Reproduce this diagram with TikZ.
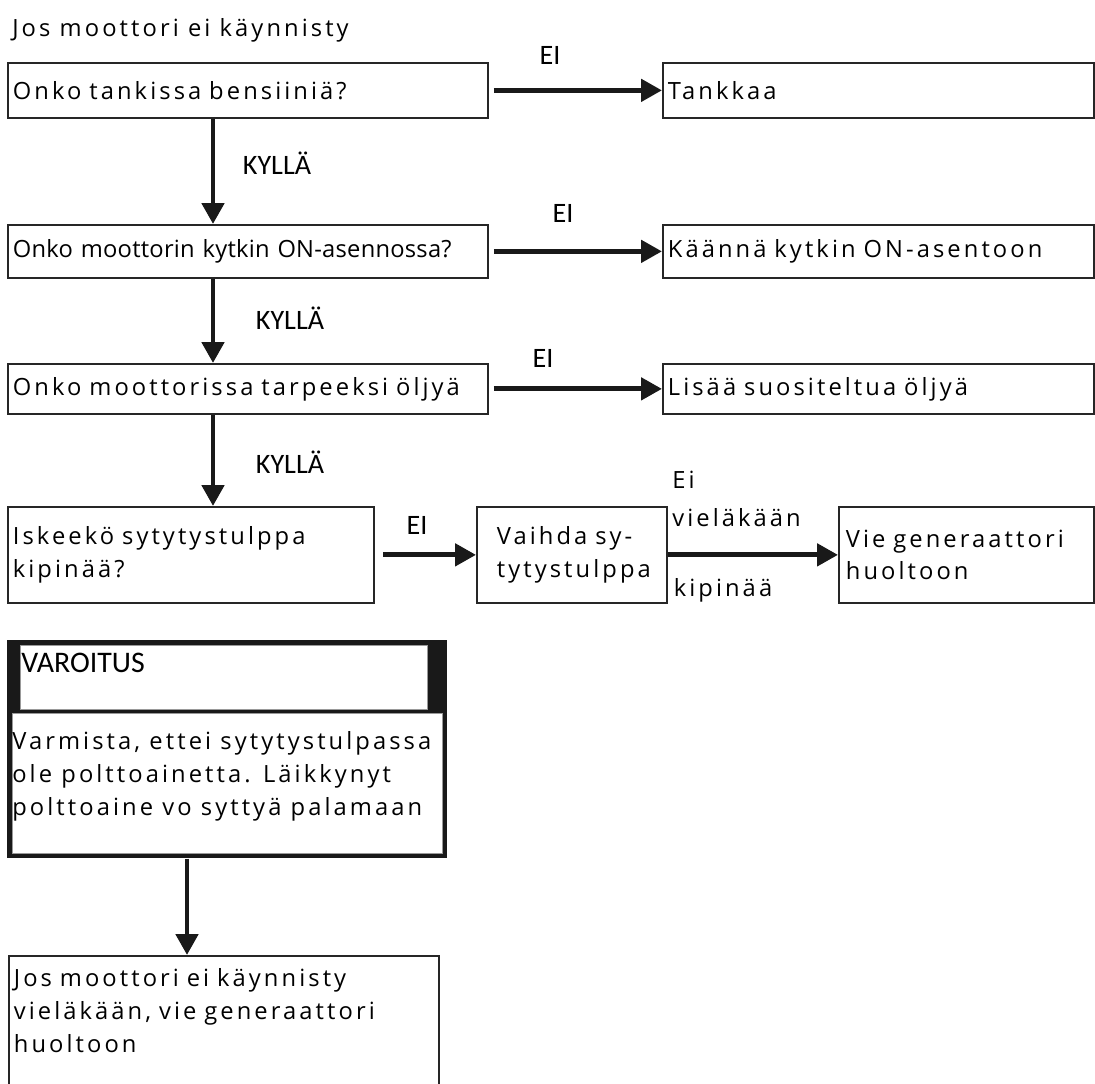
\documentclass[tikz,border=0pt]{standalone}
\usepackage{fontspec}
\setmainfont{Open Sans}[LetterSpace=13]
\newfontfamily\tightfont{Open Sans}[LetterSpace=1]
\newfontfamily\labelfont{Carlito}
\usetikzlibrary{arrows.meta}

\begin{document}
\begin{tikzpicture}[
    x=0.02cm, y=-0.02cm,
    font=\fontsize{13.5}{18.7}\selectfont,
    box/.style={draw=black!85, line width=1pt, anchor=north west,
                align=left, inner xsep=0.1cm, inner ysep=0pt},
    flow/.style={line width=2.8pt, black!90,
                 -{Triangle[width=0.44cm,length=0.42cm]}},
    lbl/.style={font=\labelfont\fontsize{16}{18}\selectfont, inner sep=0pt},
    say/.style={font=\fontsize{13.5}{17}\selectfont, inner sep=0pt}
  ]
  \useasboundingbox (0,0) rectangle (1095,1084);

  \node[anchor=west, inner sep=0pt] (title) at (12,30) {Jos moottori ei käynnisty};

  % questions on the left, what to do on the right
  \node[box, text width=9.4cm, minimum height=1.1cm] (bensa) at (7,62)
    {Onko tankissa bensiiniä?};
  \node[box, text width=8.42cm, minimum height=1.1cm] (tankkaa) at (662,62)
    {Tankkaa};
  \node[box, text width=9.4cm, minimum height=1.06cm,
        font=\tightfont\fontsize{13.5}{18.7}\selectfont] (kytkin) at (7,224)
    {Onko moottorin kytkin ON-asennossa?};
  \node[box, text width=8.42cm, minimum height=1.06cm] (kaanna) at (662,224)
    {Käännä kytkin ON-asentoon};
  \node[box, text width=9.4cm, minimum height=1.0cm] (oljy) at (7,363)
    {Onko moottorissa tarpeeksi öljyä};
  \node[box, text width=8.42cm, minimum height=1.0cm] (lisaa) at (662,363)
    {Lisää suositeltua öljyä};
  \node[box, text width=7.12cm, minimum height=1.92cm] (kipina) at (7,506)
    {Iskeekö sytytystulppa\\kipinää?};
  \node[box, text width=3.0cm, inner xsep=0.4cm, minimum height=1.92cm] (vaihda) at (476,506)
    {Vaihda sy-\\tytystulppa};
  \node[box, text width=4.82cm, inner xsep=0.14cm, minimum height=1.92cm] (huolto) at (838,506)
    {Vie generaattori\\huoltoon};

  % warning box: black frame, two white panes
  \node[anchor=north west, fill=black!90, inner sep=0pt,
        minimum width=8.8cm, minimum height=4.36cm] (varo) at (7,640) {};
  \node[anchor=north west, fill=white, draw=black!40, inner sep=0pt,
        minimum width=8.14cm, minimum height=1.28cm] (varoyla) at (20,645) {};
  \node[anchor=north west, fill=white, draw=black!40, inner sep=0pt,
        minimum width=8.6cm, minimum height=2.8cm] (varoala) at (12,713) {};
  \node[anchor=west, inner sep=0pt, font=\labelfont\fontsize{17}{18}\selectfont]
    (varoitus) at (21,663) {VAROITUS};
  \node[anchor=north west, inner sep=0pt, align=left] (varoteksti) at (12,731)
    {Varmista, ettei sytytystulpassa\\ole polttoainetta. Läikkynyt\\polttoaine vo syttyä palamaan};

  \node[box, text width=8.4cm, inner ysep=0.26cm, text depth=1.9cm] (loppu) at (8,955)
    {Jos moottori ei käynnisty\\vieläkään, vie generaattori\\huoltoon};

  % connectors
  \draw[flow, shorten <=3pt] (bensa) -- (tankkaa);
  \draw[flow, shorten <=3pt] (kytkin) -- (kaanna);
  \draw[flow, shorten <=3pt] (oljy) -- (lisaa);
  \draw[flow, shorten <=5pt] (kipina) -- (vaihda);
  \draw[flow] (vaihda) -- (huolto);
  \draw[flow] (bensa.south -| 213,0) -- (kytkin.north -| 213,0);
  \draw[flow] (kytkin.south -| 213,0) -- (oljy.north -| 213,0);
  \draw[flow] (oljy.south -| 213,0) -- (kipina.north -| 213,0);
  \draw[flow] (varo.south -| 187,0) -- (loppu.north -| 187,0);

  \node[lbl] (ei1) at (550,55) {EI};
  \node[lbl] (ei2) at (563,213) {EI};
  \node[lbl] (ei3) at (543,358) {EI};
  \node[lbl] (ei4) at (417,525) {EI};
  \node[lbl] (kylla1) at (277,163) {KYLLÄ};
  \node[lbl] (kylla2) at (290,318) {KYLLÄ};
  \node[lbl] (kylla3) at (290,462) {KYLLÄ};
  \node[say, anchor=west] (ei5) at (672,480) {Ei};
  \node[say, anchor=west] (vielakaan) at (672,518) {vieläkään};
  \node[say] (kipinaa) at (723,590) {kipinää};
\end{tikzpicture}
\end{document}
